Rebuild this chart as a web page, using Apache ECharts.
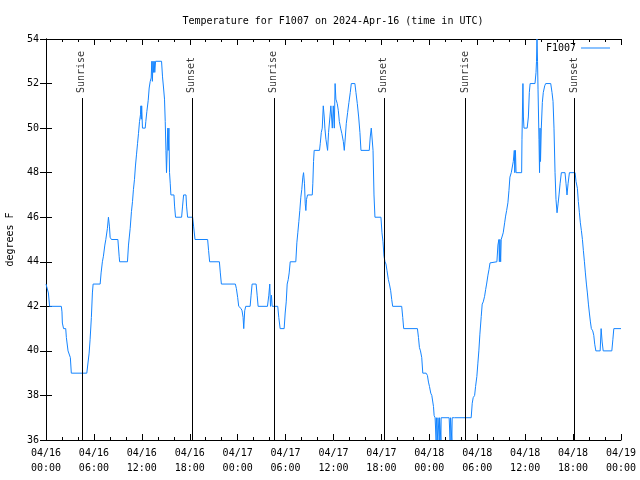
<!DOCTYPE html>
<html>
<head>
<meta charset="utf-8">
<script src="https://cdn.jsdelivr.net/npm/echarts@6/dist/echarts.min.js"></script>
<style>html,body{margin:0;padding:0;background:#fff;}#chart{width:640px;height:480px;}</style>
</head>
<body>
<div id="chart"></div>
<script>
// hours since 2024-04-16 00:00 UTC
const hours = [
0.00,0.15,0.30,0.45,1.92,2.00,2.05,2.20,2.47,2.55,2.76,2.95,3.05,3.17,5.11,5.27,5.40,5.52,5.68,5.81,5.90,
6.78,6.90,7.06,7.19,7.37,7.49,7.69,7.82,7.94,8.03,8.19,9.00,9.16,9.22,10.20,10.33,10.54,10.70,10.83,10.95,
11.08,11.20,11.33,11.46,11.58,11.71,11.83,11.88,11.93,11.98,12.08,12.42,12.50,12.63,12.80,12.92,13.05,13.17,
13.25,13.32,13.40,13.47,13.55,13.62,13.72,14.47,14.59,14.72,14.84,14.93,15.02,15.09,15.17,15.25,15.31,15.39,
15.47,15.56,15.64,16.02,16.10,16.22,16.98,17.10,17.23,17.53,17.60,17.73,18.36,18.48,18.66,20.24,20.36,20.49,
21.71,21.83,21.96,23.71,23.84,24.00,24.13,24.43,24.55,24.68,24.76,24.88,25.01,25.56,25.68,25.81,26.31,26.44,
26.56,27.73,27.90,28.02,28.11,28.23,28.32,29.02,29.15,29.32,29.82,29.95,30.08,30.20,30.33,30.45,30.58,31.28,
31.41,31.53,31.66,31.78,31.91,32.03,32.16,32.25,32.37,32.46,32.54,32.62,32.75,33.34,33.41,33.50,33.58,34.25,
34.34,34.47,34.59,34.72,34.84,34.92,35.05,35.26,35.38,35.55,35.67,35.85,35.97,36.10,36.20,36.30,36.47,36.60,
36.73,36.89,37.05,37.23,37.35,37.48,37.60,37.77,37.93,38.10,38.23,38.68,38.81,38.98,39.15,39.31,39.44,40.48,
40.60,40.73,40.88,40.95,41.07,41.19,41.94,42.07,42.20,42.32,42.45,42.57,42.70,42.87,43.00,43.16,43.29,43.41,
44.54,44.67,44.79,46.51,46.64,46.76,46.89,47.05,47.18,47.60,47.76,47.89,48.02,48.18,48.31,48.52,48.60,48.72,
48.82,48.85,48.88,49.02,49.05,49.08,49.22,49.25,49.28,49.42,49.45,49.48,50.48,50.55,50.60,50.65,50.78,50.82,
50.86,51.15,53.24,53.37,53.49,53.67,53.79,53.95,54.08,54.20,54.33,54.50,54.62,54.75,54.92,55.05,55.17,55.34,
55.47,55.60,55.75,56.46,56.59,56.71,56.77,56.84,56.93,57.00,57.13,57.25,57.43,57.55,57.68,57.84,57.97,58.09,
58.26,58.39,58.51,58.64,58.70,58.78,58.86,59.56,59.60,59.72,59.78,59.85,60.00,60.25,60.40,60.52,60.62,61.23,
61.36,61.42,61.48,61.55,61.61,61.73,61.80,61.86,61.92,62.02,62.15,62.27,62.45,62.57,63.20,63.36,63.49,63.61,
63.74,63.86,63.99,64.12,64.24,64.37,64.53,64.99,65.12,65.24,65.37,65.54,66.25,66.37,66.54,66.66,66.79,66.91,
67.04,67.17,67.29,67.42,67.54,67.67,67.79,67.92,68.04,68.17,68.29,68.46,68.59,68.71,68.85,69.39,69.51,69.64,
69.77,70.85,70.98,71.10,72.00
];
// temperature, degrees F
const temps = [
43.0,43.0,42.6,42.0,42.0,41.75,41.25,41.0,41.0,40.6,40.0,40.0,39.7,39.0,39.0,39.5,39.9,40.5,41.5,42.6,43.0,
43.0,43.5,44.0,44.25,44.75,45.0,45.5,46.0,45.6,45.1,45.0,45.0,44.25,44.0,44.0,44.75,45.5,46.25,46.7,47.25,
47.7,48.3,48.8,49.3,49.75,50.3,50.6,51.0,50.4,51.0,50.0,50.0,50.3,50.75,51.25,51.8,52.1,52.25,
53.0,52.1,53.0,52.5,53.0,52.5,53.0,53.0,52.3,51.8,51.3,50.3,49.0,48.0,48.0,50.0,49.0,50.0,
48.0,47.5,47.0,47.0,46.5,46.0,46.0,46.5,47.0,47.0,46.5,46.0,46.0,45.6,45.0,45.0,44.5,44.0,
44.0,43.5,43.0,43.0,42.8,42.4,42.0,41.9,41.8,41.5,41.0,41.8,42.0,42.0,42.5,43.0,43.0,42.5,
42.0,42.0,42.5,43.0,42.0,42.5,42.0,42.0,41.5,41.0,41.0,41.7,42.2,43.0,43.2,43.5,44.0,44.0,
44.85,45.3,45.8,46.3,46.9,47.25,47.8,48.0,47.5,46.6,46.3,46.8,47.0,47.0,47.5,48.5,49.0,49.0,
49.3,49.8,50.0,51.0,50.5,50.0,49.5,49.0,49.8,50.5,51.0,50.0,51.0,50.0,52.0,51.3,51.1,50.8,
50.3,50.0,49.75,49.4,49.0,49.6,50.2,50.7,51.15,51.6,52.0,52.0,51.6,51.1,50.5,49.8,49.0,49.0,
49.6,50.0,50.0,49.0,47.0,46.0,46.0,45.3,44.9,44.25,44.0,43.9,43.6,43.2,43.0,42.7,42.3,42.0,
42.0,41.5,41.0,41.0,40.6,40.15,40.0,39.7,39.0,39.0,38.9,38.6,38.4,38.1,38.0,37.5,37.1,37.0,
37.0,36.0,37.0,37.0,36.0,37.0,37.0,36.0,37.0,37.0,36.0,37.0,37.0,37.0,36.0,37.0,37.0,36.0,
37.0,37.0,37.0,37.65,37.9,38.0,38.4,38.85,39.45,40.0,40.75,41.55,42.1,42.2,42.45,42.75,43.0,43.4,
43.65,43.95,44.0,44.0,44.75,45.0,44.0,45.0,44.0,45.0,45.0,45.3,45.75,46.05,46.3,46.65,47.2,47.8,
48.0,48.0,48.5,49.0,48.0,49.0,48.0,48.0,49.5,52.0,50.5,50.0,50.0,50.0,50.5,51.6,52.0,52.0,
52.5,53.0,54.0,53.0,51.75,49.5,48.0,50.0,48.5,50.0,51.15,51.6,51.9,52.0,52.0,51.6,51.2,50.0,
48.0,46.8,46.2,46.6,47.0,47.5,48.0,48.0,47.5,47.0,47.5,48.0,48.0,47.6,47.3,46.7,46.2,45.75,
45.4,45.0,44.5,44.0,43.5,43.0,42.6,42.1,41.7,41.3,41.0,40.9,40.7,40.3,40.0,40.0,41.0,40.4,
40.0,40.0,40.5,41.0,41.0
];
const sunriseHours = [4.48, 28.52, 52.49];
const sunsetHours = [18.26, 42.30, 66.20];
const xTickLabels = ['04/16\n00:00','04/16\n06:00','04/16\n12:00','04/16\n18:00','04/17\n00:00','04/17\n06:00',
  '04/17\n12:00','04/17\n18:00','04/18\n00:00','04/18\n06:00','04/18\n12:00','04/18\n18:00','04/19\n00:00'];
const seriesName = 'F1007';
const titleText = 'Temperature for F1007 on 2024-Apr-16 (time in UTC)';

const FONT = 'DejaVu Sans Mono';
const lineColor = '#1484ff';
const chart = echarts.init(document.getElementById('chart'), null, {renderer: 'canvas'});

const points = hours.map((h, i) => [h, temps[i]]);
const markLines = [];
sunriseHours.concat(sunsetHours).forEach(h => {
  markLines.push([{coord: [h, 36]}, {coord: [h, 51.35]}]);
});
const labelPts = sunriseHours.map(h => [h, 51.53, 'Sunrise']).concat(sunsetHours.map(h => [h, 51.53, 'Sunset']));

const axisCommon = {
  type: 'value',
  axisLine: {show: true, lineStyle: {color: '#000', width: 1}},
  splitLine: {show: false}
};

chart.setOption({
  animation: false,
  backgroundColor: '#fff',
  title: {
    text: titleText, left: 328, top: 11, textAlign: 'center',
    textStyle: {fontFamily: FONT, fontSize: 10, fontWeight: 'normal', color: '#000'}
  },
  legend: {
    data: [seriesName], right: 30, top: 43, align: 'right', icon: 'rect', padding: 0,
    itemWidth: 29, itemHeight: 1, itemGap: 6,
    textStyle: {fontFamily: FONT, fontSize: 10, color: '#000'}
  },
  grid: {left: 46, right: 19, top: 39, bottom: 40, show: false, containLabel: false, outerBoundsMode: 'none'},
  xAxis: [
    Object.assign({}, axisCommon, {
      position: 'bottom', min: 0, max: 72, interval: 6,
      axisTick: {show: true, inside: true, length: 6, lineStyle: {color: '#000'}},
      minorTick: {show: true, splitNumber: 3, length: 3, lineStyle: {color: '#000'}},
      axisLabel: {fontFamily: FONT, fontSize: 10, color: '#000', margin: 6, lineHeight: 15,
        formatter: v => xTickLabels[Math.round(v / 6)]}
    }),
    Object.assign({}, axisCommon, {
      position: 'top', min: 0, max: 72, interval: 6,
      axisTick: {show: true, inside: true, length: 6, lineStyle: {color: '#000'}},
      minorTick: {show: true, splitNumber: 3, length: 3, lineStyle: {color: '#000'}},
      axisLabel: {show: false}
    })
  ],
  yAxis: [
    Object.assign({}, axisCommon, {
      position: 'left', min: 36, max: 54, interval: 2,
      axisTick: {show: true, inside: true, length: 6, lineStyle: {color: '#000'}},
      axisLabel: {fontFamily: FONT, fontSize: 10, color: '#000', margin: 7},
      name: 'degrees F', nameLocation: 'middle', nameGap: 31, nameRotate: 90,
      nameTextStyle: {fontFamily: FONT, fontSize: 10, color: '#000'}
    }),
    Object.assign({}, axisCommon, {
      position: 'right', min: 36, max: 54, interval: 2,
      axisTick: {show: true, inside: true, length: 6, lineStyle: {color: '#000'}},
      axisLabel: {show: false}
    })
  ],
  series: [
    {
      name: seriesName, type: 'line', data: points, showSymbol: false, symbol: 'none',
      xAxisIndex: 0, yAxisIndex: 0, clip: true,
      lineStyle: {color: lineColor, width: 1}, itemStyle: {color: lineColor},
      markLine: {
        silent: true, symbol: ['none', 'none'], label: {show: false},
        lineStyle: {color: '#000', width: 1, type: 'solid'},
        data: markLines
      }
    },
    {
      type: 'scatter', data: labelPts, symbolSize: 0, silent: true,
      xAxisIndex: 0, yAxisIndex: 0,
      label: {
        show: true, position: 'inside', rotate: 90, align: 'left', verticalAlign: 'middle',
        offset: [1, 0],
        formatter: p => p.data[2],
        fontFamily: FONT, fontSize: 10, color: '#000'
      }
    }
  ]
});
</script>
</body>
</html>
